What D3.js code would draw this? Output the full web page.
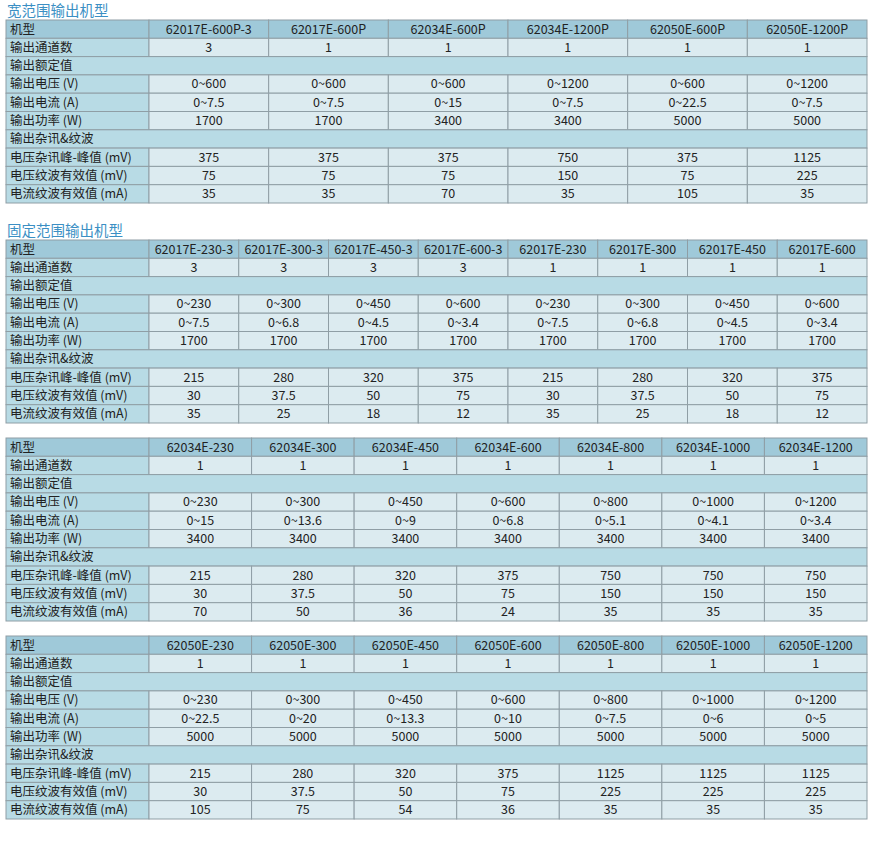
<!DOCTYPE html><html><head><meta charset="utf-8"><script src="https://cdn.jsdelivr.net/npm/d3@7"></script>
<style>body{margin:0;background:#fff}</style></head><body><svg id="c" width="873" height="842"></svg><script>
const rowLabels=["机型","输出通道数","输出额定值","输出电压 (V)","输出电流 (A)","输出功率 (W)","输出杂讯&纹波","电压杂讯峰-峰值 (mV)","电压纹波有效值 (mV)","电流纹波有效值 (mA)"];
const sectionRows=[2,6];
const t1Models=["62017E-600P-3","62017E-600P","62034E-600P","62034E-1200P","62050E-600P","62050E-1200P"];
const t1Channels=["3","1","1","1","1","1"];
const t1Voltage=["0~600","0~600","0~600","0~1200","0~600","0~1200"];
const t1Current=["0~7.5","0~7.5","0~15","0~7.5","0~22.5","0~7.5"];
const t1Power=["1700","1700","3400","3400","5000","5000"];
const t1Vpp=["375","375","375","750","375","1125"];
const t1Vrms=["75","75","75","150","75","225"];
const t1Irms=["35","35","70","35","105","35"];
const t2Models=["62017E-230-3","62017E-300-3","62017E-450-3","62017E-600-3","62017E-230","62017E-300","62017E-450","62017E-600"];
const t2Channels=["3","3","3","3","1","1","1","1"];
const t2Voltage=["0~230","0~300","0~450","0~600","0~230","0~300","0~450","0~600"];
const t2Current=["0~7.5","0~6.8","0~4.5","0~3.4","0~7.5","0~6.8","0~4.5","0~3.4"];
const t2Power=["1700","1700","1700","1700","1700","1700","1700","1700"];
const t2Vpp=["215","280","320","375","215","280","320","375"];
const t2Vrms=["30","37.5","50","75","30","37.5","50","75"];
const t2Irms=["35","25","18","12","35","25","18","12"];
const t3Models=["62034E-230","62034E-300","62034E-450","62034E-600","62034E-800","62034E-1000","62034E-1200"];
const t3Channels=["1","1","1","1","1","1","1"];
const t3Voltage=["0~230","0~300","0~450","0~600","0~800","0~1000","0~1200"];
const t3Current=["0~15","0~13.6","0~9","0~6.8","0~5.1","0~4.1","0~3.4"];
const t3Power=["3400","3400","3400","3400","3400","3400","3400"];
const t3Vpp=["215","280","320","375","750","750","750"];
const t3Vrms=["30","37.5","50","75","150","150","150"];
const t3Irms=["70","50","36","24","35","35","35"];
const t4Models=["62050E-230","62050E-300","62050E-450","62050E-600","62050E-800","62050E-1000","62050E-1200"];
const t4Channels=["1","1","1","1","1","1","1"];
const t4Voltage=["0~230","0~300","0~450","0~600","0~800","0~1000","0~1200"];
const t4Current=["0~22.5","0~20","0~13.3","0~10","0~7.5","0~6","0~5"];
const t4Power=["5000","5000","5000","5000","5000","5000","5000"];
const t4Vpp=["215","280","320","375","1125","1125","1125"];
const t4Vrms=["30","37.5","50","75","225","225","225"];
const t4Irms=["105","75","54","36","35","35","35"];

const svg=d3.select("#c");
const font="'Noto Sans CJK SC','Noto Sans',sans-serif";
const X0=6,X1=867,LW=143,RH=18.3;
function table(y0,title,models,rows){
  if(title) svg.append("text").attr("x",7).attr("y",y0-4).attr("fill","#3b8fc4").attr("font-size",14.5).attr("font-family",font).text(title);
  const data=[models,rows[0],null,rows[1],rows[2],rows[3],null,rows[4],rows[5],rows[6]];
  const ys=d3.scaleBand().domain(d3.range(10)).range([y0,y0+RH*10]);
  const xs=d3.scaleBand().domain(d3.range(models.length)).range([X0+LW,X1]);
  const g=svg.append("g").attr("font-family",font).attr("font-size",12.5).attr("fill","#222");
  data.forEach((r,i)=>{
    const y=ys(i),h=ys.bandwidth();
    const bg=i==0?"#9fc9d9":(r===null?"#b8dbe5":"#dcebf0");
    if(r===null){
      g.append("rect").attr("x",X0).attr("y",y).attr("width",X1-X0).attr("height",h).attr("fill",bg).attr("stroke","#8f9ea5").attr("stroke-width",1);
    } else {
      g.append("rect").attr("x",X0).attr("y",y).attr("width",LW).attr("height",h).attr("fill",i==0?bg:"#b8dbe5").attr("stroke","#8f9ea5");
      r.forEach((v,j)=>{
        g.append("rect").attr("x",xs(j)).attr("y",y).attr("width",xs.bandwidth()).attr("height",h).attr("fill",bg).attr("stroke","#8f9ea5");
        g.append("text").attr("x",xs(j)+xs.bandwidth()/2).attr("y",y+h/2+4.4).attr("text-anchor","middle").text(v);
      });
    }
    g.append("text").attr("x",X0+4).attr("y",y+h/2+4.4).text(rowLabels[i]);
  });
}
table(20,"宽范围输出机型",t1Models,[t1Channels,t1Voltage,t1Current,t1Power,t1Vpp,t1Vrms,t1Irms]);
table(240,"固定范围输出机型",t2Models,[t2Channels,t2Voltage,t2Current,t2Power,t2Vpp,t2Vrms,t2Irms]);
table(438,null,t3Models,[t3Channels,t3Voltage,t3Current,t3Power,t3Vpp,t3Vrms,t3Irms]);
table(636,null,t4Models,[t4Channels,t4Voltage,t4Current,t4Power,t4Vpp,t4Vrms,t4Irms]);
</script></body></html>
